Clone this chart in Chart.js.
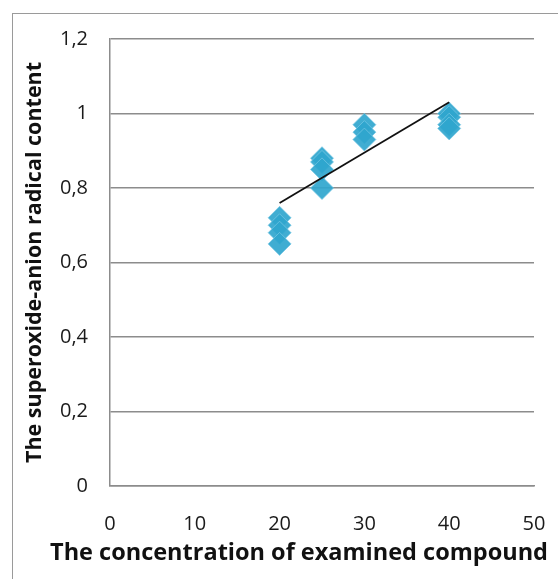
<!doctype html>
<html lang="en">
<head>
<meta charset="utf-8">
<title>Superoxide-anion radical content</title>
<style>
  html, body {margin: 0; padding: 0; background: #fff;}
  #wrap {position: relative; width: 558px; height: 579px; overflow: hidden;}
  /* grey frame of the original figure, open to the right and bottom */
  #frame {position: absolute; left: 12px; top: 13px; width: 600px; height: 600px;
          border-left: 1.5px solid #9a9a9a; border-top: 1.5px solid #9a9a9a;}
  canvas {position: absolute; left: 0; top: 0;}
</style>
</head>
<body>
<div id="wrap">
  <div id="frame"></div>
  <canvas id="myChart" width="558" height="579"></canvas>
</div>

<script src="https://cdn.jsdelivr.net/npm/chart.js@4/dist/chart.umd.min.js"></script>
<script>
var concentration = [20, 20, 20, 20, 25, 25, 25, 25, 30, 30, 30, 40, 40, 40, 40];
var radical = [0.72, 0.70, 0.68, 0.65, 0.88, 0.87, 0.85, 0.80, 0.97, 0.95, 0.93, 1.00, 0.99, 0.97, 0.96];

// trend line end points
var trendX = [20, 40];
var trendY = [0.76, 1.03];

var xTicks = [0, 10, 20, 30, 40, 50];
var yTicks = [0, 0.2, 0.4, 0.6, 0.8, 1, 1.2];
var yTickLabels = ['0', '0,2', '0,4', '0,6', '0,8', '1', '1,2'];

var xTitle = 'The concentration of examined compound';
var yTitle = 'The superoxide-anion radical content';

var FONT = '"Open Sans", "Liberation Sans", sans-serif';

// x axis title sits left of centre in the original, so draw it by hand
var xTitlePlugin = {
  id: 'xTitle',
  afterDraw: function(chart) {
    var ctx = chart.ctx;
    ctx.save();
    ctx.font = 'bold 23.5px ' + FONT;
    ctx.fillStyle = '#111';
    ctx.textAlign = 'center';
    ctx.textBaseline = 'middle';
    ctx.fillText(xTitle, 299, 553);
    ctx.restore();
  }
};

var points = concentration.map(function(c, i) { return {x: c, y: radical[i]}; });
var trend = trendX.map(function(c, i) { return {x: c, y: trendY[i]}; });

var ctx = document.getElementById('myChart').getContext('2d');
var myChart = new Chart(ctx, {
  type: 'scatter',
  data: {
    datasets: [{
      label: 'trend',
      data: trend,
      showLine: true,
      borderColor: '#111',
      borderWidth: 1.8,
      pointRadius: 0,
      order: 0
    }, {
      label: 'content',
      data: points,
      pointStyle: 'rectRot',
      pointRadius: 11.5,
      pointHoverRadius: 11.5,
      backgroundColor: 'rgba(48,166,206,0.92)',
      borderColor: 'rgba(120,200,228,0.7)',
      borderWidth: 1,
      order: 1
    }]
  },
  options: {
    responsive: false,
    animation: false,
    devicePixelRatio: 1,
    layout: {padding: {left: 22, top: 39, right: 24, bottom: 8}},
    plugins: {legend: {display: false}, tooltip: {enabled: false}},
    scales: {
      x: {
        type: 'linear', min: 0, max: 50,
        afterBuildTicks: function(s) { s.ticks = xTicks.map(function(v) { return {value: v}; }); },
        afterFit: function(s) { s.height = 85; },
        // invisible tick marks give the label gap without widening the right padding
        grid: {drawOnChartArea: false, drawTicks: true, tickLength: 24, tickColor: 'rgba(0,0,0,0)'},
        border: {display: true, color: '#8c8c8c', width: 1.5},
        ticks: {color: '#1a1a1a', font: {family: FONT, size: 20}, padding: 2, maxRotation: 0}
      },
      y: {
        type: 'linear', min: 0, max: 1.2,
        afterBuildTicks: function(s) { s.ticks = yTicks.map(function(v) { return {value: v}; }); },
        afterFit: function(s) { s.width = 88; },
        grid: {color: '#8c8c8c', lineWidth: 1.5, drawTicks: false},
        border: {display: true, color: '#8c8c8c', width: 1.5},
        ticks: {
          color: '#1a1a1a', font: {family: FONT, size: 20}, padding: 22,
          callback: function(v, i) { return yTickLabels[i]; }
        },
        title: {
          display: true, text: yTitle, color: '#111',
          font: {family: FONT, size: 21.5, weight: 'bold'},
          padding: {top: 0, bottom: 0}
        }
      }
    }
  },
  plugins: [xTitlePlugin]
});
</script>
</body>
</html>
